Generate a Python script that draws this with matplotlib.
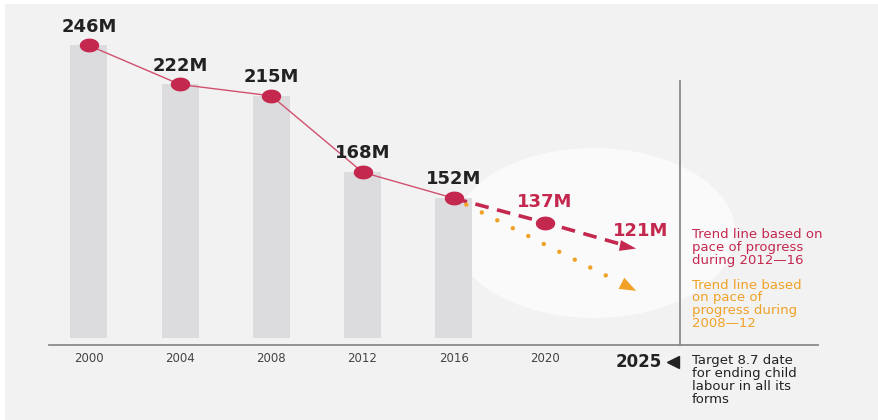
import numpy as np
import matplotlib
matplotlib.use("Agg")
from matplotlib import pyplot as plt
from matplotlib.patches import Rectangle, Ellipse
from matplotlib.path import Path

# historical estimates (millions of children in child labour)
years = [2000, 2004, 2008, 2012, 2016]
values = [246, 222, 215, 168, 152]
labels = ["246M", "222M", "215M", "168M", "152M"]

# projections
trend_years = [2016, 2020, 2024]
trend_1216 = [152, 137, 121]
trend_labels = ["137M", "121M"]
trend_0812 = [152, 95]
trend_0812_years = [2016, 2024]

tick_years = [2000, 2004, 2008, 2012, 2016, 2020]
target_year = 2025

red = "#c4284f"
red_thin = "#d0506f"
orange = "#f0a126"
bar_col = "#dcdcde"
bg = "#f2f2f2"
dark = "#222222"

plt.rcParams["font.family"] = ["DejaVu Sans"]

fig = plt.figure(figsize=(8.79, 4.20), dpi=100, facecolor="white")

ax = fig.add_axes([0, 0, 1, 1])
ax.set_facecolor("none")
ax.set_xlim(1996.1, 2034.65)
ax.set_ylim(15.5, 274.0)
ax.axis("off")

# grey panel, leaving a thin white strip at left and top
ax.add_patch(Rectangle((5 / 879, 0), 1, 1 - 4 / 420, transform=ax.transAxes,
                       facecolor=bg, edgecolor="none", zorder=0))

base = 66
# soft highlight behind the projections
ax.add_patch(Ellipse((2022.15, 130.6), 12.4, 104.6, facecolor="#fafafa",
                     edgecolor="none", zorder=1))

ax.bar(years, [v - base for v in values], bottom=base, width=1.62,
       color=bar_col, zorder=2)

# ellipse-ish marker (source is stretched horizontally)
t = np.linspace(0, 2 * np.pi, 40)
dot = Path(np.column_stack([1.45 * np.cos(t), np.sin(t)]))

ax.plot(years, values, color=red_thin, lw=1.0, zorder=3)
ax.plot(years, values, ls="none", marker=dot, ms=13, color=red, zorder=5)

# trend 2012-16 (dashed red)
ax.plot(trend_years[:-1] + [trend_years[-1] - 0.5],
        trend_1216[:-1] + [trend_1216[-1] + 2.0],
        color=red, lw=2.6, ls=(0, (3.8, 2.4)), zorder=4)
ax.plot(trend_years[1], trend_1216[1], ls="none", marker=dot, ms=13, color=red, zorder=5)
ax.annotate("", xy=(trend_years[-1], trend_1216[-1]),
            xytext=(trend_years[-1] - 0.75, trend_1216[-1] + 2.0),
            arrowprops=dict(arrowstyle="-|>,head_length=0.85,head_width=0.28",
                            color=red, lw=0, shrinkA=0, shrinkB=0, mutation_scale=14),
            zorder=5)

# trend 2008-12 (dotted orange)
ox = np.array(trend_0812_years, float)
oy = np.array(trend_0812, float)
slope = (oy[1] - oy[0]) / (ox[1] - ox[0])
ax.plot([ox[0] + 0.55, ox[1] - 0.8],
        [oy[0] + slope * 0.55, oy[1] - slope * 0.8],
        color=orange, lw=3.2, ls=(0, (0.01, 3.9)), dash_capstyle="round", zorder=4)
ax.annotate("", xy=(ox[1], oy[1]), xytext=(ox[1] - 0.75, oy[1] - slope * 0.75),
            arrowprops=dict(arrowstyle="-|>,head_length=0.85,head_width=0.32",
                            color=orange, lw=0, shrinkA=0, shrinkB=0, mutation_scale=14),
            zorder=5)

# value labels
lab_kw = dict(textcoords="offset points", ha="center", va="center", fontsize=13,
              fontweight="bold", zorder=6)
for x, v, s in zip(years, values, labels):
    ax.annotate(s, (x, v), xytext=(0, 13.5), color=dark, **lab_kw)
ax.annotate(trend_labels[0], (trend_years[1], trend_1216[1]), xytext=(0, 14.5),
            color=red, **lab_kw)
ax.annotate(trend_labels[1], (trend_years[2], trend_1216[2]), xytext=(3, 12.5),
            color=red, **lab_kw)

# axis line and target divider
ax.plot([1998.25, 2031.97], [61.7, 61.7], color="#8a8a8a", lw=1.3, zorder=3)
ax.plot([target_year + 0.92] * 2, [61.7, 224.1], color="#8a8a8a", lw=1.3, zorder=3)

for y in tick_years:
    ax.text(y, 53.6, str(y), ha="center", va="center", fontsize=8.5, color="#444444")

ax.text(target_year + 0.13, 51.0, str(target_year), ha="right", va="center",
        fontsize=12, fontweight="bold", color=dark)
ax.plot(target_year + 0.62, 51.0, marker="<", ms=9, color=dark, ls="none")

tx = 2026.45
note_kw = dict(ha="left", va="top", fontsize=9.5, linespacing=0.98)
ax.text(tx, 133.5, "Trend line based on\npace of progress\nduring 2012\u201416",
        color=red, **note_kw)
ax.text(tx, 102.5, "Trend line based\non pace of\nprogress during\n2008\u201412",
        color=orange, **note_kw)
ax.text(tx, 56.0, "Target 8.7 date\nfor ending child\nlabour in all its\nforms",
        color=dark, **note_kw)

fig.savefig("out.png", dpi=100, facecolor="white")
